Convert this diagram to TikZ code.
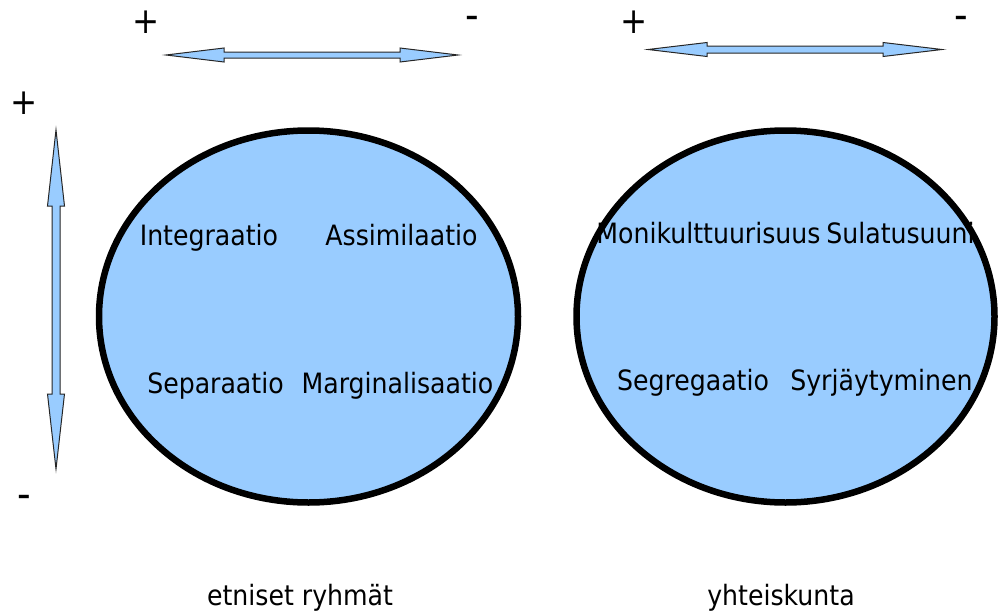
\documentclass[tikz,border=0pt]{standalone}
\usepackage{fontspec}
\setmainfont{DejaVu Sans Condensed}
\begin{document}
\begin{tikzpicture}[x=1pt,y=-1pt,
  bubble/.style={draw=black,line width=6.5pt,fill=bubbleblue},
  blockarrow/.style={draw=black!85,line width=1pt,fill=bubbleblue,line join=miter},
  term/.style={anchor=base,inner sep=0pt,font=\fontsize{28}{32}\selectfont},
  sign/.style={anchor=base,inner sep=0pt,font=\fontsize{36}{40}\selectfont},
  minus/.style={anchor=base,inner sep=0pt,font=\fontsize{42}{46}\selectfont}]
\definecolor{bubbleblue}{HTML}{99CCFF}
\useasboundingbox (0,0) rectangle (998,613);

% the two circles
\draw[bubble] (308.5,316.5) ellipse [x radius=209.5,y radius=186];
\draw[bubble] (785.5,316.5) ellipse [x radius=209,y radius=186];

% double-headed block arrows
\draw[blockarrow] (166,55) -- (224,48) -- (224,52) -- (400,52) -- (400,48)
  -- (458,55) -- (400,62) -- (400,58) -- (224,58) -- (224,62) -- cycle;
\draw[blockarrow] (648,49.5) -- (707,42.5) -- (707,46) -- (883,46) -- (883,42.5)
  -- (942,49.5) -- (883,56.5) -- (883,53) -- (707,53) -- (707,56.5) -- cycle;
\draw[blockarrow] (56,130) -- (64.5,206) -- (60,206) -- (60,394) -- (64.5,394)
  -- (56,469) -- (47.5,394) -- (52,394) -- (52,206) -- (47.5,206) -- cycle;

% scale signs
\node[sign] (p1) at (146,33) {+};
\node[minus] (m1) at (472,29) {-};
\node[sign] (p2) at (634,33) {+};
\node[minus] (m2) at (961,29) {-};
\node[sign] (p3) at (24,114) {+};
\node[minus] (m3) at (24,508) {-};

% ethnic groups
\node[term] (int) at (209,245) {Integraatio};
\node[term] (ass) at (401.5,245) {Assimilaatio};
\node[term] (sep) at (215.5,393) {Separaatio};
\node[term] (mar) at (397.5,393) {Marginalisaatio};

% society
\node[term] (mon) at (708.5,243) {Monikulttuurisuus};
\node[term] (sul) at (900.5,243) {Sulatusuuni};
\node[term] (seg) at (693,390) {Segregaatio};
\node[term] (syr) at (881.5,390) {Syrjäytyminen};

% captions
\node[term] (cap1) at (300,605) {etniset ryhmät};
\node[term] (cap2) at (781,605) {yhteiskunta};
\end{tikzpicture}
\end{document}
